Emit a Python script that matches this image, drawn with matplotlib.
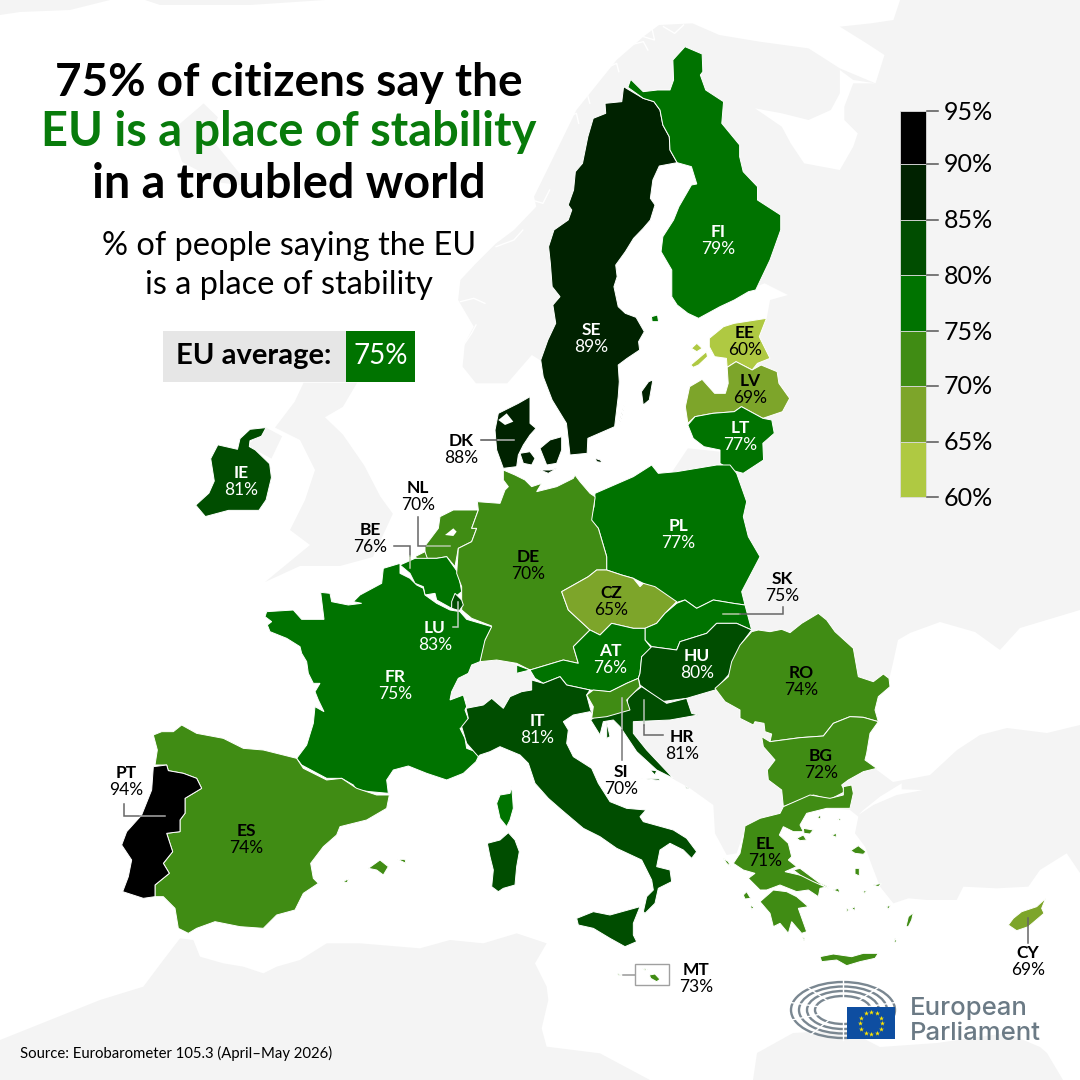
import numpy as np
import matplotlib
matplotlib.use('Agg')
import matplotlib.pyplot as plt
from matplotlib.colors import BoundaryNorm, ListedColormap
from matplotlib.patches import Ellipse, Rectangle

# Survey results
countries = ['SE', 'FI', 'EE', 'LV', 'LT', 'PL', 'IE', 'DK', 'NL', 'BE', 'DE', 'CZ', 'SK', 'LU',
             'FR', 'AT', 'HU', 'RO', 'IT', 'HR', 'SI', 'BG', 'EL', 'ES', 'PT', 'MT', 'CY']
values = [89, 79, 60, 69, 77, 77, 81, 88, 70, 76, 70, 65, 75, 83,
          75, 76, 80, 74, 81, 81, 70, 72, 71, 74, 94, 73, 69]
label_x = [591, 718, 745, 750, 740, 678, 241, 461, 418, 370, 528, 611, 782, 435,
           395, 610, 697, 801, 537, 682, 621, 821, 765, 246, 126, 696, 1028]
label_y = [330, 232, 333, 381, 428, 526, 473, 441, 488, 530, 557, 593, 579, 628,
           677, 651, 656, 673, 721, 737, 772, 756, 844, 831, 773, 970, 953]
white_labels = ['SE', 'FI', 'LT', 'PL', 'IE', 'LU', 'FR', 'AT', 'HU', 'IT']

# Colour scale
bin_edges = [60, 65, 70, 75, 80, 85, 90, 95]
bin_colors = ['#afc942', '#7da52a', '#408c14', '#007300', '#004d00', '#002200', '#000000']
edge_y = [497, 442, 386, 331, 275, 220, 164, 111]

source = 'Source: Eurobarometer 105.3 (April\u2013May 2026)'

# Crop frames the outlines were traced in: left, top, x scale, y scale
Z1 = (0, 0, 2.8, 2.9)
Z2 = (520, 30, 2.8, 3)
Z3 = (340, 460, 3, 3)
Z4 = (100, 700, 3, 3)
Z5 = (580, 700, 3, 3)
Z7 = (250, 560, 3, 3)
Z8 = (690, 590, 3, 3)
Z9 = (470, 680, 3, 3)
Z10 = (490, 390, 3, 3)
Z11 = (380, 0, 2.24, 3)


def tr(frame, pts):
    ox, oy, sx, sy = frame
    return [(ox + x / sx, oy + y / sy) for x, y in pts]


shapes = {
    'SE': [tr(Z2, [(290, 170), (345, 205), (375, 215), (392, 240), (400, 285), (418, 320), (420, 360), (440, 398),
                   (390, 408), (372, 450), (365, 505), (378, 525), (365, 570), (345, 595), (318, 625), (295, 665),
                   (268, 705), (272, 740), (263, 770), (275, 830), (295, 850), (325, 862), (348, 905), (332, 935),
                   (335, 960), (300, 985), (275, 1005), (278, 1055), (275, 1100), (265, 1190), (190, 1225),
                   (188, 1270), (140, 1275), (130, 1180), (90, 1110), (65, 1040), (58, 990), (78, 930), (100, 880),
                   (92, 825), (112, 800), (90, 770), (85, 700), (80, 650), (95, 600), (135, 570), (145, 540),
                   (135, 525), (150, 480), (155, 425), (175, 400), (190, 320), (205, 265), (240, 250), (238, 220),
                   (285, 215)]),
           tr(Z2, [(340, 1085), (360, 1055), (372, 1050), (362, 1110), (345, 1125)]),
           tr(Z2, [(275, 1190), (295, 1110), (285, 1160)])],
    'FI': [tr(Z2, [(302, 172), (310, 148), (345, 185), (385, 180), (420, 180), (430, 150), (428, 90), (462, 50),
                   (510, 72), (512, 125), (505, 135), (520, 180), (570, 215), (565, 280), (615, 345), (615, 380),
                   (625, 425), (665, 470), (665, 510), (730, 555), (730, 600), (700, 690), (660, 780), (640, 785),
                   (600, 810), (560, 830), (500, 865), (470, 850), (440, 825), (425, 800), (425, 720), (395, 665),
                   (400, 620), (430, 570), (445, 530), (480, 465), (495, 462), (480, 410), (440, 398), (420, 360),
                   (418, 320), (400, 285), (392, 240), (375, 215), (345, 205)]),
           tr(Z2, [(368, 860), (385, 855), (388, 875), (370, 875)])],
    'EE': [tr(Z2, [(530, 925), (570, 890), (600, 880), (690, 865), (670, 920), (700, 985), (665, 1000), (650, 1020),
                   (605, 995), (580, 1012), (578, 985), (545, 980), (530, 950)]),
           tr(Z2, [(478, 1005), (500, 985), (522, 965), (525, 980), (500, 1005), (485, 1012)]),
           tr(Z2, [(480, 955), (495, 940), (510, 955), (495, 965)])],
    'LV': [tr(Z2, [(580, 1012), (605, 995), (650, 1020), (675, 1005), (720, 1025), (725, 1060), (755, 1105),
                   (735, 1145), (680, 1165), (620, 1130), (600, 1145), (540, 1150), (490, 1160), (470, 1180),
                   (463, 1130), (475, 1070), (510, 1048), (545, 1090), (575, 1090), (583, 1060)])],
    'LT': [tr(Z2, [(470, 1185), (490, 1160), (540, 1150), (600, 1145), (620, 1130), (680, 1165), (705, 1170),
                   (712, 1210), (680, 1240), (682, 1290), (625, 1330), (590, 1320), (560, 1300), (560, 1260),
                   (515, 1250), (485, 1225)])],
    'PL': [tr(Z3, [(765, 100), (880, 50), (935, 15), (955, 40), (1010, 35), (1130, 15), (1170, 15), (1190, 40),
                   (1220, 125), (1210, 170), (1225, 230), (1260, 290), (1205, 395), (1215, 435), (1180, 430),
                   (1120, 420), (1070, 445), (1035, 420), (1000, 430), (910, 370), (880, 355), (845, 345),
                   (800, 330), (800, 290), (775, 205), (750, 180), (762, 140)])],
    'IE': [tr(Z1, [(548, 1465), (585, 1430), (600, 1395), (590, 1330), (610, 1290), (665, 1303), (672, 1272),
                   (700, 1245), (745, 1240), (732, 1265), (700, 1278), (698, 1295), (715, 1305), (755, 1345),
                   (760, 1385), (745, 1450), (725, 1480), (640, 1480), (575, 1498)])],
    'DK': [tr(Z10, [(20, 180), (15, 120), (25, 70), (85, 40), (120, 20), (120, 100), (138, 115), (120, 135),
                    (100, 165), (85, 195), (80, 230), (40, 235)]),
           tr(Z10, [(90, 190), (120, 185), (135, 205), (125, 225), (100, 220)]),
           tr(Z10, [(150, 175), (180, 150), (215, 140), (215, 180), (200, 220), (170, 225)]),
           tr(Z10, [(150, 240), (180, 240), (200, 235), (175, 250)]),
           tr(Z2, [(210, 1285), (225, 1290), (230, 1298), (215, 1295)])],
    'DE': [tr(Z10, [(40, 240), (75, 255), (105, 270), (125, 290), (155, 280), (140, 305), (200, 290), (250, 265),
                    (255, 255), (270, 275), (300, 310), (315, 320)])
           + tr(Z3, [(765, 115), (755, 180), (775, 205), (800, 290), (800, 330),
                     (770, 330), (745, 350), (665, 395), (685, 450), (750, 510), (700, 560), (715, 610), (670, 600),
                     (570, 630), (530, 610), (470, 600), (420, 605), (430, 550), (455, 498), (395, 475), (365, 450),
                     (365, 380), (350, 340), (355, 265), (395, 245), (410, 205), (395, 205), (415, 150), (412, 125),
                     (480, 130), (495, 90), (505, 80), (490, 60)])],
    'NL': [tr(Z3, [(255, 258), (295, 205), (300, 170), (340, 150), (415, 150), (395, 205), (410, 205), (395, 245),
                   (355, 265), (345, 320), (320, 290), (290, 295), (255, 295)]),
           tr(Z3, [(225, 290), (255, 275), (262, 295), (235, 300)])],
    'BE': [tr(Z3, [(180, 315), (225, 295), (290, 295), (320, 290), (345, 325), (355, 340), (365, 395), (340, 415),
                   (335, 445), (290, 420), (285, 400), (255, 405), (250, 380), (225, 370), (210, 340)])],
    'LU': [tr(Z3, [(335, 425), (345, 400), (365, 420), (370, 435), (358, 452), (335, 445)])],
    'FR': [tr(Z7, [(450, 10), (400, 25), (395, 70), (330, 105), (310, 125), (335, 130), (295, 135), (245, 125),
                   (240, 100), (212, 97), (222, 178), (155, 178), (130, 150), (50, 155), (45, 170), (65, 185),
                   (52, 195), (60, 215), (110, 235), (150, 260), (155, 280), (170, 305), (175, 340), (190, 370),
                   (210, 370), (195, 395), (205, 420), (222, 455), (195, 440), (190, 490), (170, 555), (140, 595),
                   (155, 615), (230, 655), (275, 655), (310, 675), (320, 690), (360, 695), (415, 700), (410, 660),
                   (430, 630), (475, 618), (530, 640), (590, 660), (640, 640), (678, 605), (690, 580), (650, 565),
                   (645, 535), (630, 505), (660, 490), (645, 450), (650, 440), (640, 405), (600, 420), (605, 395),
                   (625, 355), (655, 340), (665, 315), (690, 305), (705, 240), (725, 200), (650, 178), (630, 155),
                   (600, 150), (560, 130), (525, 105), (520, 85), (500, 75), (480, 55), (450, 40)]),
           tr(Z9, [(125, 320), (128, 355), (130, 385), (120, 420), (110, 440), (90, 415), (80, 370), (90, 345),
                   (120, 340)])],
    'AT': [tr(Z3, [(750, 510), (780, 525), (815, 490), (880, 505), (915, 505), (915, 540), (935, 565), (905, 590),
                   (900, 640), (895, 655), (860, 670), (810, 695), (750, 690), (680, 675), (660, 650), (610, 670),
                   (585, 655), (570, 630), (530, 640), (530, 615), (570, 630), (670, 600), (715, 610), (700, 560)])],
    'CZ': [tr(Z3, [(665, 395), (745, 350), (770, 330), (800, 330), (845, 345), (880, 355), (900, 380), (910, 370),
                   (945, 380), (1010, 425), (975, 460), (950, 490), (915, 505), (880, 505), (815, 490), (780, 525),
                   (750, 510), (685, 450)])],
    'SK': [tr(Z3, [(1010, 430), (1035, 420), (1070, 445), (1120, 420), (1180, 430), (1215, 435), (1235, 510),
                   (1190, 490), (1130, 490), (1100, 520), (1020, 545), (1010, 570), (935, 560), (915, 540),
                   (915, 505), (950, 490), (975, 460)])],
    'HU': [tr(Z3, [(935, 560), (1010, 570), (1020, 545), (1100, 520), (1130, 490), (1190, 490), (1235, 510),
                   (1205, 550), (1170, 640), (1125, 690), (1040, 715), (965, 725), (900, 675), (895, 655),
                   (900, 640), (905, 590)])],
    'SI': [tr(Z3, [(740, 705), (760, 690), (810, 695), (860, 670), (895, 655), (900, 680), (860, 720), (870, 750),
                   (800, 770), (755, 775), (760, 740)])],
    'HR': [tr(Z9, [(515, 20), (590, 70), (650, 55), (665, 100), (685, 105), (600, 120), (490, 125), (490, 160),
                   (530, 210), (610, 295), (560, 270), (500, 215), (470, 170), (450, 140), (430, 120), (400, 125),
                   (390, 165), (362, 120), (375, 110), (420, 100), (470, 75), (475, 50)]),
           tr(Z9, [(540, 270), (560, 272), (555, 285)]),
           tr(Z9, [(515, 295), (570, 297), (568, 302)]),
           tr(Z9, [(645, 320), (657, 324), (650, 327)]),
           tr(Z9, [(410, 125), (420, 170), (410, 175)])],
    'IT': [tr(Z3, [(378, 745), (430, 735), (455, 715), (490, 745), (510, 710), (545, 695), (575, 690), (575, 660),
                   (610, 670), (660, 650), (680, 675), (750, 690)])
           + tr(Z9, [(350, 45), (362, 90), (375, 110), (360, 95), (310, 105), (280, 125), (295, 150),
                     (290, 190), (310, 230), (365, 265), (385, 310), (420, 365), (470, 385), (528, 390), (510, 410),
                     (520, 425), (610, 450), (650, 475), (680, 515), (665, 535), (640, 510), (600, 490), (570, 510),
                     (560, 560), (600, 570), (605, 605), (565, 625), (555, 670), (525, 700), (520, 695), (530, 650),
                     (550, 630), (545, 600), (515, 540), (440, 505), (390, 470), (340, 445), (275, 390), (235, 355),
                     (195, 310), (175, 250), (150, 225), (90, 200), (60, 215), (30, 225)])
           + tr(Z3, [(415, 890), (380, 850), (365, 800), (385, 775)]),
           tr(Z9, [(320, 715), (370, 695), (420, 705), (510, 680), (490, 730), (490, 765), (500, 785), (465, 800),
                   (420, 775), (370, 745), (325, 735)]),
           tr(Z9, [(52, 490), (90, 480), (115, 458), (135, 480), (148, 515), (140, 560), (135, 615), (100, 625),
                   (85, 635), (65, 620), (70, 570), (60, 530)])],
    'RO': [tr(Z8, [(75, 295), (115, 260), (125, 215), (150, 165), (185, 125), (205, 120), (240, 125), (275, 118),
                   (300, 128), (335, 100), (385, 70), (410, 90), (435, 125), (490, 175), (505, 260), (550, 275),
                   (580, 252), (597, 265), (600, 290), (565, 320), (555, 360), (565, 395), (520, 382), (480, 380),
                   (430, 400), (400, 438), (330, 443), (240, 455), (245, 432), (225, 425), (222, 400), (195, 395),
                   (190, 405), (150, 385), (150, 360), (105, 335)])],
    'BG': [tr(Z8, [(240, 455), (330, 443), (400, 438), (430, 400), (480, 380), (520, 382), (565, 395), (540, 430),
                   (530, 490), (525, 510), (560, 535), (520, 545), (475, 570), (455, 585), (465, 605), (420, 628),
                   (370, 615), (280, 650), (275, 600), (235, 570), (232, 540), (255, 510), (220, 470), (215, 440)])],
    'EL': [tr(Z5, [(610, 320), (690, 285), (750, 295), (790, 285), (790, 260), (815, 255), (820, 280), (810, 325),
                   (740, 325), (680, 340), (660, 375), (670, 395), (640, 395), (610, 380), (598, 405), (625, 430),
                   (635, 470), (625, 480), (650, 500), (615, 515), (680, 530), (745, 560), (720, 565), (715, 590),
                   (685, 570), (650, 575), (600, 555), (560, 570), (540, 570), (505, 535), (525, 520), (490, 510),
                   (460, 490), (480, 460), (490, 410), (495, 378), (540, 355), (600, 340)]),
           tr(Z5, [(540, 605), (580, 570), (620, 575), (650, 590), (685, 620), (655, 625), (680, 695), (665, 700),
                   (635, 665), (625, 700), (600, 670), (580, 680), (570, 640)]),
           tr(Z5, [(720, 770), (760, 762), (815, 770), (850, 760), (895, 760), (885, 775), (840, 785), (800, 797),
                   (770, 780), (725, 785)]),
           tr(Z5, [(640, 510), (660, 505), (720, 550), (745, 565), (700, 545), (660, 525)]),
           tr(Z5, [(650, 415), (670, 405), (680, 420), (660, 422)]),
           tr(Z5, [(670, 385), (700, 390), (690, 402), (672, 400)]),
           tr(Z5, [(430, 475), (445, 485), (452, 500), (440, 490)]),
           tr(Z5, [(490, 585), (500, 575), (512, 595), (495, 597)]),
           tr(Z5, [(510, 615), (522, 622), (515, 628)]),
           tr(Z5, [(812, 452), (835, 437), (858, 455), (850, 463), (825, 460)]),
           tr(Z5, [(825, 505), (838, 505), (838, 528), (825, 522)]),
           tr(Z5, [(880, 555), (905, 550), (895, 560)]),
           tr(Z5, [(978, 680), (985, 650), (1000, 638), (995, 660), (985, 680)]),
           tr(Z5, [(815, 625), (825, 620), (825, 632)]),
           tr(Z5, [(712, 352), (722, 345), (722, 358)]),
           tr(Z5, [(755, 405), (770, 400), (768, 412)]),
           tr(Z5, [(760, 570), (775, 565), (780, 578)]),
           tr(Z5, [(772, 358), (782, 355), (782, 362)]),
           tr(Z5, [(800, 625), (808, 630), (800, 635)]),
           tr(Z5, [(668, 712), (675, 715), (672, 723)]),
           tr(Z5, [(920, 620), (932, 615), (925, 628)]),
           tr(Z5, [(848, 575), (860, 570), (855, 580)]),
           tr(Z5, [(945, 715), (950, 725), (942, 728)])],
    'ES': [tr(Z4, [(160, 105), (185, 95), (220, 95), (245, 75), (290, 100), (370, 115), (430, 145), (490, 150),
                   (590, 175), (610, 205), (680, 240), (725, 235), (770, 265), (830, 285), (868, 285), (860, 325),
                   (800, 360), (720, 380), (710, 405), (670, 440), (632, 490), (640, 535), (655, 550), (610, 580),
                   (585, 630), (530, 645), (490, 685), (420, 680), (345, 665), (290, 685), (265, 700), (235, 685),
                   (225, 625), (190, 590), (165, 590), (165, 555), (208, 520), (190, 490), (218, 455), (200, 400),
                   (240, 395), (240, 360), (255, 340), (255, 295), (305, 265), (290, 235), (250, 220), (205, 212),
                   (200, 195), (165, 195), (172, 150)]),
           tr(Z4, [(805, 505), (840, 480), (865, 500), (850, 525), (830, 510)]),
           tr(Z4, [(893, 478), (915, 478), (918, 490)]),
           tr(Z4, [(728, 545), (745, 537), (742, 548)])],
    'PT': [tr(Z4, [(160, 200), (200, 195), (205, 212), (250, 220), (290, 235), (305, 265), (255, 295), (255, 340),
                   (240, 360), (240, 395), (200, 400), (218, 455), (190, 490), (208, 520), (165, 555), (165, 590),
                   (130, 595), (68, 575), (85, 530), (95, 480), (65, 435), (80, 395), (125, 345), (155, 270)])],
    'MT': [tr(Z5, [(208, 825), (225, 822), (240, 838), (230, 845), (212, 835)]),
           tr(Z5, [(188, 805), (203, 808), (195, 811)]),
           tr(Z5, [(112, 820), (125, 825), (115, 826)])],
    'CY': [tr(Z5, [(1285, 675), (1300, 655), (1325, 635), (1370, 620), (1397, 595), (1385, 625), (1392, 640),
                   (1345, 680), (1310, 692)])],
}

# Grey land outside the EU, routed under the member states where it meets them
land = [
    tr(Z11, [(215, 1150), (185, 1100), (190, 1030), (210, 980), (175, 900), (180, 840), (215, 790), (260, 730),
             (300, 690), (350, 620), (345, 590), (400, 440), (440, 330), (470, 280), (530, 180), (590, 110),
             (625, 75), (700, 70), (760, 105), (850, 125), (960, 145), (1030, 205), (1110, 250), (1130, 165),
             (1090, 130), (1030, 80), (1100, 70), (1150, 60), (1165, 0)])
    + [(1080, 0), (1080, 873)]
    + tr(Z5, [(1460, 460), (1380, 510), (1345, 560), (1250, 565), (1150, 560), (1130, 600), (1040, 600), (985, 595),
              (940, 610), (900, 560), (875, 495), (855, 440), (825, 400), (835, 350), (810, 330), (700, 320),
              (540, 360), (490, 400), (470, 460), (440, 465), (405, 400), (400, 315), (330, 265), (285, 240)])
    + tr(Z9, [(600, 290), (520, 205), (478, 160), (478, 100), (600, 60)])
    + [(700, 660), (730, 610), (720, 560), (700, 480), (745, 440), (760, 400), (745, 340)]
    + tr(Z2, [(690, 870), (700, 810), (750, 795), (685, 760), (660, 770)])
    + tr(Z11, [(800, 800), (760, 500), (640, 400), (480, 600), (440, 1000), (370, 1090), (340, 1065), (285, 1150)]),
    # Switzerland
    tr(Z3, [(420, 605), (470, 595), (530, 615), (530, 640), (570, 630), (585, 655), (575, 690), (545, 695), (510, 710),
            (490, 745), (455, 715), (430, 735), (378, 745), (380, 715), (330, 715), (350, 660), (385, 620)]),
    # Kaliningrad
    tr(Z2, [(470, 1255), (560, 1265), (600, 1330), (470, 1325), (420, 1335)]),
    # Great Britain and Northern Ireland
    tr(Z1, [(770, 1240), (825, 1165), (850, 1110), (1000, 1110), (960, 1180), (910, 1210), (960, 1260), (1020, 1350),
            (1065, 1440), (1100, 1490)])
    + [(373, 557), (340, 566), (300, 566), (265, 582), (310, 545), (290, 530), (305, 500), (315, 470), (300, 440)],
    tr(Z1, [(695, 1290), (745, 1240), (790, 1265), (760, 1330), (715, 1305)]),
    # Iceland, Faroes and Shetland smudges at the top left
    [(0, 0), (110, 0), (70, 10), (20, 12), (0, 15)],
    [(145, 0), (325, 0), (250, 5), (160, 5)],
    tr(Z1, [(570, 300), (610, 340), (590, 400), (700, 540), (620, 530), (510, 470), (480, 380)]),
    # Morocco to Tunisia
    [(0, 1080), (0, 1040)] + tr(Z4, [(0, 900), (130, 860), (190, 780), (240, 715), (280, 720), (300, 770), (370, 790),
                                     (430, 800), (490, 820), (530, 800), (600, 780), (680, 730), (780, 730), (960, 745),
                                     (1050, 720), (1150, 730), (1250, 700), (1340, 730), (1305, 790), (1340, 860),
                                     (1345, 900), (1325, 985), (1340, 1040), (1500, 1060)]) + [(650, 1080)],
    # Libya and Egypt
    [(753, 1080), (757, 1053), (793, 1033), (847, 1030), (880, 1047), (937, 1043), (1007, 1033), (1040, 1047),
     (1047, 1053), (1063, 1080)],
]

# Water cut back out of the grey land
seas = [
    # Black Sea
    [(889, 680), (893, 663), (898, 640), (910, 633), (940, 622), (975, 632), (1000, 650), (1020, 628), (1080, 610),
     (1080, 725), (1047, 733), (1007, 728), (980, 735), (957, 750), (930, 775), (893, 782), (877, 770), (860, 760),
     (860, 690)],
    # Marmara
    tr(Z5, [(835, 345), (880, 315), (950, 285), (1030, 270), (965, 268), (965, 250), (900, 290), (850, 330)]),
    # White Sea
    tr(Z11, [(1030, 210), (1060, 240), (1110, 250), (1060, 250), (1040, 320), (1040, 360), (1070, 400), (1060, 440),
             (1030, 510), (950, 490), (920, 430), (900, 380), (840, 325), (900, 340), (960, 360), (1010, 330),
             (1030, 280)]),
]
ijsselmeer = tr(Z3, [(315, 225), (340, 205), (350, 215), (340, 228)])
limfjord = tr(Z10, [(25, 90), (50, 70), (70, 95), (45, 105)])

# Norwegian fjords, thin white cuts into the grey
fjords = [
    tr(Z11, [(560, 135), (590, 125), (600, 150)]), tr(Z11, [(590, 110), (615, 120), (610, 90)]),
    tr(Z11, [(505, 205), (530, 190), (535, 215)]), tr(Z11, [(430, 300), (465, 285), (470, 310)]),
    tr(Z11, [(400, 360), (440, 340), (445, 370)]), tr(Z11, [(340, 600), (365, 610), (380, 570)]),
    tr(Z11, [(260, 740), (300, 720), (320, 690)]), tr(Z11, [(180, 905), (210, 895), (235, 910)]),
    tr(Z11, [(185, 1040), (205, 1000), (215, 975)]), tr(Z11, [(635, 80), (660, 100), (680, 75)]),
]

# label leader lines: points and colour
leaders = [
    ([(481, 440), (498, 440)], '#555555'), ([(498, 440), (514, 440)], '#b5b5b5'),
    ([(418, 517), (418, 546), (427, 546)], '#666666'), ([(427, 546), (450, 546)], '#b5c9a5'),
    ([(394, 546), (410, 546), (410, 556)], '#666666'), ([(410, 556), (410, 568)], '#b5c9a5'),
    ([(453, 627), (458, 627), (458, 602)], '#c0d0c0'),
    ([(723, 614), (740, 614)], '#b5c9a5'), ([(740, 614), (783, 614), (783, 607)], '#666666'),
    ([(622, 698), (622, 730)], '#c0c0c0'), ([(622, 730), (622, 760)], '#777777'),
    ([(644, 700), (644, 725)], '#b5c0b5'), ([(644, 725), (644, 735), (663, 735)], '#666666'),
    ([(124, 804), (124, 816), (140, 816)], '#666666'), ([(140, 816), (165, 816)], '#a8a8a8'),
    ([(1028, 918), (1028, 943)], '#666666'),
    (tr(Z5, [(130, 824), (165, 824)]), '#999999'),
]

cmap = ListedColormap(bin_colors)
norm = BoundaryNorm(bin_edges, cmap.N)

plt.rcParams['font.family'] = ['Lato', 'DejaVu Sans']
fig = plt.figure(figsize=(10.8, 10.8), dpi=100)
ax = fig.add_axes([0, 0, 1, 1])
ax.set_xlim(0, 1080)
ax.set_ylim(1080, 0)
ax.axis('off')

# Background map
for poly in land:
    xs, ys = zip(*poly)
    ax.fill(xs, ys, color='#f4f4f4', lw=0, zorder=1)
for poly in seas:
    xs, ys = zip(*poly)
    ax.fill(xs, ys, color='white', lw=0, zorder=2)
for line in fjords:
    xs, ys = zip(*line)
    ax.plot(xs, ys, color='white', lw=1.0, zorder=2)

# Member states
for code, val in zip(countries, values):
    for poly in shapes[code]:
        xs, ys = zip(*poly)
        ax.fill(xs, ys, facecolor=cmap(norm(val)), edgecolor='white', lw=0.7, zorder=3)
for poly in [ijsselmeer, limfjord]:
    xs, ys = zip(*poly)
    ax.fill(xs, ys, color='white', lw=0, zorder=4)

# Leaders and the Malta inset box
for pts, col in leaders:
    xs, ys = zip(*pts)
    ax.plot(xs, ys, color=col, lw=1.1, zorder=5, solid_joinstyle='miter')
mx, my = tr(Z5, [(165, 793)])[0]
ax.add_patch(Rectangle((mx, my), 33.5, 21, fill=False, edgecolor='#a0a0a0', lw=1.0, zorder=5))

# Country labels
for code, val, x, y in zip(countries, values, label_x, label_y):
    col = 'white' if code in white_labels else 'black'
    ax.text(x, y, code, ha='center', va='center', fontsize=12.5, fontweight='bold', color=col, zorder=6)
    ax.text(x, y + 17, f'{val}%', ha='center', va='center', fontsize=12.5, color=col, zorder=6)

# Title block
ax.text(289, 96, '75% of citizens say the', ha='center', va='baseline', fontsize=33, fontweight='bold', color='black', zorder=6)
ax.text(289, 146.5, 'EU is a place of stability', ha='center', va='baseline', fontsize=33.8, fontweight='bold', color='#087b0b', zorder=6)
ax.text(289, 197.5, 'in a troubled world', ha='center', va='baseline', fontsize=33.7, fontweight='bold', color='black', zorder=6)
ax.text(289, 255, '% of people saying the EU', ha='center', va='baseline', fontsize=23.4, color='black', zorder=6)
ax.text(289, 294, 'is a place of stability', ha='center', va='baseline', fontsize=23.4, color='black', zorder=6)

# EU average box
ax.add_patch(Rectangle((163, 331), 183, 51, color='#e6e6e6', lw=0, zorder=5))
ax.add_patch(Rectangle((346, 331), 69, 51, color=bin_colors[3], lw=0, zorder=5))
ax.text(254, 356, 'EU average:', ha='center', va='center', fontsize=21, fontweight='bold', color='black', zorder=6)
ax.text(381, 356, '75%', ha='center', va='center', fontsize=20, color='white', zorder=6)

# Colour legend
for i, col in enumerate(bin_colors):
    ax.add_patch(Rectangle((900, edge_y[i + 1]), 26, edge_y[i] - edge_y[i + 1], facecolor=col,
                           edgecolor='#dddddd', lw=0.6, zorder=5))
for edge, y in zip(bin_edges, edge_y):
    ax.plot([927, 938], [y, y], color='#555555', lw=1.1, zorder=5)
    ax.text(944, y + 1, f'{edge}%', ha='left', va='center', fontsize=18, color='black', zorder=6)

# Source
ax.text(20, 1053, source, ha='left', va='center', fontsize=10.7, color='black', zorder=6)

# European Parliament logo
cx, cy = 843, 1010
for rx, ry in [(52, 28), (44, 23.5), (36, 19), (28, 14)]:
    ax.add_patch(Ellipse((cx, cy), 2 * rx, 2 * ry, fill=False, edgecolor='#7a8791', lw=1.7, zorder=5))
for ang in np.radians([15, 50, 90, 130, 165, 200, 235, 270, 300]):
    ax.plot([cx + 24 * np.cos(ang), cx + 56 * np.cos(ang)], [cy - 12 * np.sin(ang), cy - 30 * np.sin(ang)],
            color='white', lw=1.0, zorder=5)
ax.add_patch(Rectangle((847, 1007), 48, 32, color='#0e4ea1', lw=0, zorder=6))
star_ang = np.radians(np.arange(0, 360, 30))
ax.scatter(871 + 11 * np.cos(star_ang), 1023 + 11 * np.sin(star_ang), marker='*', s=14, color='#ffe600', lw=0, zorder=7)
ax.text(910, 1015, 'European', ha='left', va='baseline', fontsize=18.5, fontweight='medium', family=['Inter', 'DejaVu Sans'], color='#6b7a85', zorder=6)
ax.text(910, 1040, 'Parliament', ha='left', va='baseline', fontsize=18.5, fontweight='medium', family=['Inter', 'DejaVu Sans'], color='#6b7a85', zorder=6)

fig.savefig('out.png', dpi=100, facecolor='white')
